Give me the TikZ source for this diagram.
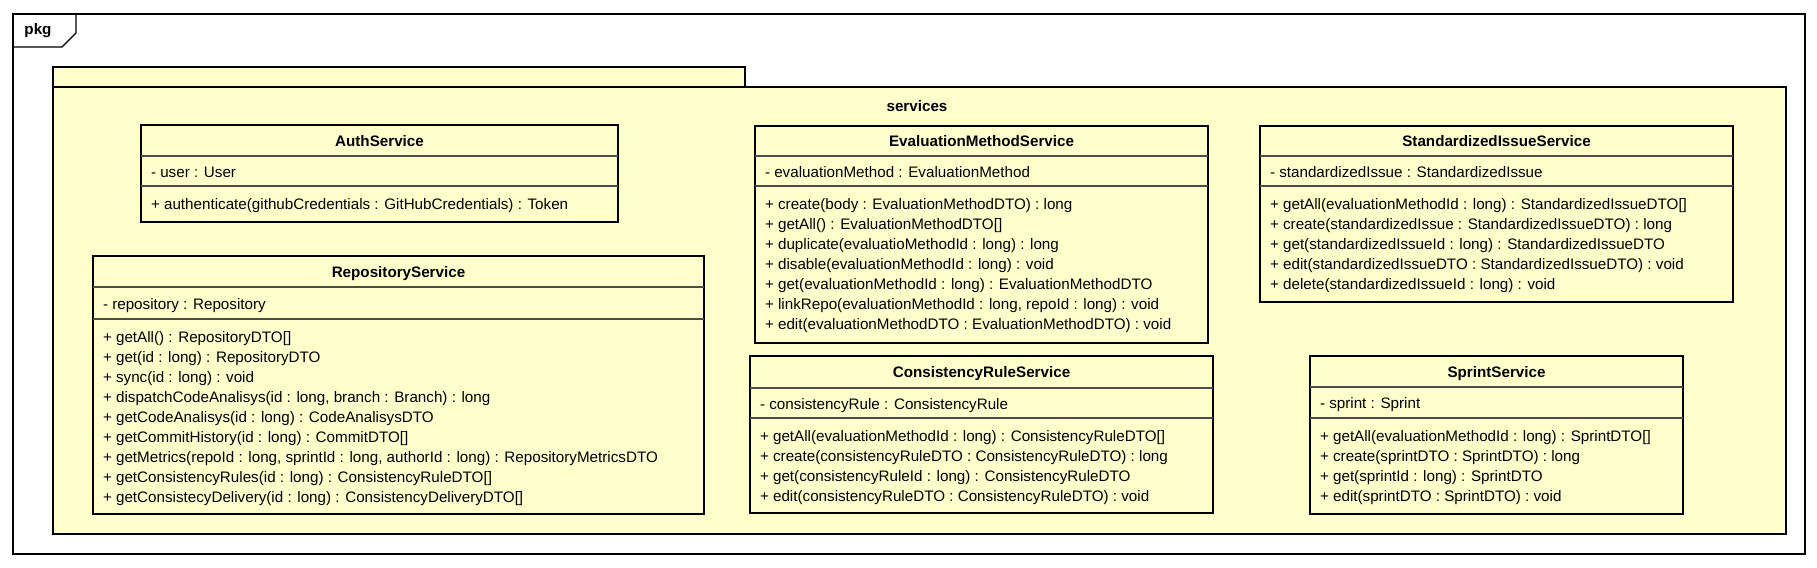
\documentclass[tikz,border=0pt]{standalone}
\usepackage{fontspec}
\setmainfont{Liberation Sans}
\definecolor{umlyellow}{HTML}{FFFFCC}
\tikzset{
  every node/.style={inner sep=0pt, outer sep=0pt, font=\fontsize{15.2bp}{20bp}\selectfont},
  classbox/.style={draw=black, fill=umlyellow, line width=2.6bp},
  pkgbox/.style={draw=black, fill=umlyellow, line width=2.6bp},
  framebox/.style={draw=black, line width=1.1bp},
  sepline/.style={draw=black!70, line width=1.2bp},
  member/.style={anchor=mid west},
  ctitle/.style={font=\fontsize{15.2bp}{20bp}\selectfont\bfseries, anchor=mid},
}
% id, x1, y1, x2, y2, sep1, sep2, title, attribute
\newcommand\umlclass[9]{%
  \node[classbox, anchor=north west, minimum width={(#4-#2)*1bp}, minimum height={(#5-#3)*1bp}] (#1) at (#2,#3) {};
  \draw[sepline] (#2,#6) -- (#4,#6);
  \draw[sepline] (#2,#7) -- (#4,#7);
  \node[ctitle] (#1-title) at ({(#2+#4)/2},{(#3+#6)/2+3}) {#8};
  \node[member] (#1-attr) at (#2+10,{(#6+#7)/2+3.5}) {#9};
  \def\curx{#2}\def\curs{#7}\def\curid{#1}%
}
\newcommand\umlops[1]{%
  \foreach \m [count=\i] in {#1} {
    \node[member] (\curid-op\i) at (\curx+10,\curs+20.5+20*\i-20) {\m};
  }
}
\begin{document}
\begin{tikzpicture}[x=1bp,y=-1bp]
\useasboundingbox (0,0) rectangle (1817,568);
% outer frame
\draw[framebox] (13,14) rectangle (1805,554);
\draw[framebox] (13,47) -- (62,47) -- (76,33) -- (76,14);
\node[font=\fontsize{15.2bp}{20bp}\selectfont\bfseries] (pkglabel) at (38,31) {pkg};
% package
\draw[pkgbox] (53,67) rectangle (745,87);
\draw[pkgbox] (53,87) rectangle (1786,534);
\node[font=\fontsize{15.2bp}{20bp}\selectfont\bfseries] (services) at (917,106) {services};

\umlclass{auth}{141}{125}{618}{222}{156}{186}{AuthService}{- user : User}
\umlops{{+ authenticate(githubCredentials : GitHubCredentials) : Token}}

\umlclass{repo}{93}{256}{704}{514}{287}{319}{RepositoryService}{- repository : Repository}
\umlops{{+ getAll() : RepositoryDTO[]},
 {+ get(id : long) : RepositoryDTO},
 {+ sync(id : long) : void},
 {+ dispatchCodeAnalisys(id : long, branch : Branch) : long},
 {+ getCodeAnalisys(id : long) : CodeAnalisysDTO},
 {+ getCommitHistory(id : long) : CommitDTO[]},
 {+ getMetrics(repoId : long, sprintId : long, authorId : long) : RepositoryMetricsDTO},
 {+ getConsistencyRules(id : long) : ConsistencyRuleDTO[]},
 {+ getConsistecyDelivery(id : long) : ConsistencyDeliveryDTO[]}}

\umlclass{eval}{755}{126}{1208}{343}{156}{186}{EvaluationMethodService}{- evaluationMethod : EvaluationMethod}
\umlops{{+ create(body : EvaluationMethodDTO) : long},
 {+ getAll() : EvaluationMethodDTO[]},
 {+ duplicate(evaluatioMethodId : long) : long},
 {+ disable(evaluationMethodId : long) : void},
 {+ get(evaluationMethodId : long) : EvaluationMethodDTO},
 {+ linkRepo(evaluationMethodId : long, repoId : long) : void},
 {+ edit(evaluationMethodDTO : EvaluationMethodDTO) : void}}

\umlclass{cons}{750}{356}{1213}{513}{388}{418}{ConsistencyRuleService}{- consistencyRule : ConsistencyRule}
\umlops{{+ getAll(evaluationMethodId : long) : ConsistencyRuleDTO[]},
 {+ create(consistencyRuleDTO : ConsistencyRuleDTO) : long},
 {+ get(consistencyRuleId : long) : ConsistencyRuleDTO},
 {+ edit(consistencyRuleDTO : ConsistencyRuleDTO) : void}}

\umlclass{std}{1260}{126}{1733}{302}{156}{186}{StandardizedIssueService}{- standardizedIssue : StandardizedIssue}
\umlops{{+ getAll(evaluationMethodId : long) : StandardizedIssueDTO[]},
 {+ create(standardizedIssue : StandardizedIssueDTO) : long},
 {+ get(standardizedIssueId : long) : StandardizedIssueDTO},
 {+ edit(standardizedIssueDTO : StandardizedIssueDTO) : void},
 {+ delete(standardizedIssueId : long) : void}}

\umlclass{sprint}{1310}{356}{1683}{514}{387}{418}{SprintService}{- sprint : Sprint}
\umlops{{+ getAll(evaluationMethodId : long) : SprintDTO[]},
 {+ create(sprintDTO : SprintDTO) : long},
 {+ get(sprintId : long) : SprintDTO},
 {+ edit(sprintDTO : SprintDTO) : void}}
\end{tikzpicture}
\end{document}
